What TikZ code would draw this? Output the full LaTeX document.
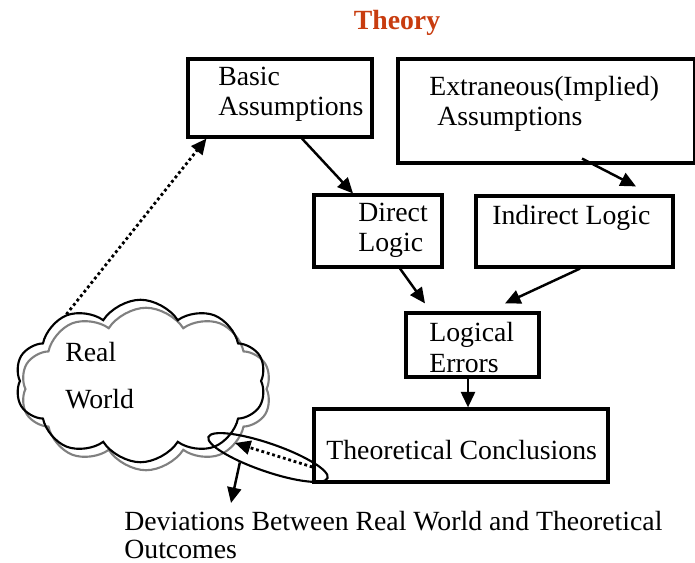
\documentclass[tikz,border=0pt]{standalone}
\usepackage{fontspec}
\setmainfont{Liberation Serif}
\usetikzlibrary{shapes.symbols,shapes.geometric,arrows.meta}
\definecolor{theoryred}{RGB}{200, 60, 15}

\begin{document}
\begin{tikzpicture}[x=0.02cm, y=-0.02cm,
    font=\fontsize{15.8}{17.6}\selectfont,
    box/.style={draw, line width=1.8pt, rectangle, inner sep=0pt},
    txt/.style={anchor=base west, align=left, inner sep=0pt},
    arr/.style={line width=1.4pt, -{Triangle[length=0.31cm, width=0.28cm]}},
    dots/.style={arr, line width=1.6pt, dash pattern=on 1.6pt off 1.6pt},
    puff/.style={cloud, cloud puffs=10, cloud puff arc=115, line width=1.2pt, minimum width=5.02cm, minimum height=3.25cm}]
                    \useasboundingbox (0,0) rectangle (695,563);

                    \node[anchor=base, font=\fontsize{15.8}{17.6}\selectfont\bfseries, text=theoryred] (title) at (397,30) {Theory};

                    \node[box, minimum width=3.68cm, minimum height=1.56cm] (basic) at (280,98) {};
                    \node[box, minimum width=5.94cm, minimum height=2.08cm] (extra) at (546.5,111) {};
                    \node[box, minimum width=2.56cm, minimum height=1.44cm] (direct) at (378,231) {};
                    \node[box, minimum width=3.94cm, minimum height=1.42cm] (indirect) at (574.5,231.5) {};
                    \node[box, minimum width=2.66cm, minimum height=1.28cm] (errors) at (472.5,345) {};
                    \node[box, minimum width=5.88cm, minimum height=1.46cm] (concl) at (461,445.5) {};

                    % base of the last line
                    \node[txt] (basictxt) at (218,116) {Basic\\Assumptions};
                    \node[txt] (extratxt) at (429,126) {Extraneous(Implied)\\\hspace*{0.16cm}Assumptions};
                    \node[txt] (directtxt) at (358,252) {Direct\\Logic};
                    \node[txt] (indirecttxt) at (492,225) {Indirect Logic};
                    \node[txt] (errorstxt) at (429,372) {Logical\\Errors};
                    \node[txt] (concltxt) at (326,459) {Theoretical Conclusions};

                    \node[puff, draw=gray] (worldshadow) at (146,389) {};
                    \node[puff, draw] (world) at (140.5,381) {};
                    \node[txt] (worldtxt) at (65,408) {Real\\[0.32cm]World};

                    \node[ellipse, draw, line width=1.2pt, inner sep=0pt, minimum width=2.52cm, minimum height=0.56cm, rotate=-19] (gap) at (268,457.5) {};
                    \coordinate (gapin) at (235,443);
                    \coordinate (devtip) at (231,503);
                    \node[txt, font=\fontsize{15.8}{15.9}\selectfont] (devtxt) at (124,558) {Deviations Between Real World and Theoretical\\Outcomes};

                    \draw[arr] ([xshift=0.44cm]basic.south) -- ([xshift=-0.5cm]direct.north);
                    \draw[arr] ([xshift=0.71cm, yshift=0.12cm]extra.south) -- ([xshift=1.23cm, yshift=0.16cm]indirect.north);
                    \draw[arr] ([xshift=0.44cm]direct.south) -- ([xshift=-0.95cm, yshift=0.16cm]errors.north);
                    \draw[arr] ([xshift=0.11cm]indirect.south) -- ([xshift=0.65cm, yshift=0.16cm]errors.north);
                    \draw[arr] ([xshift=-0.09cm]errors.south) -- ([xshift=-0.09cm]errors.south |- concl.north);
                    \draw[dots] (world.138) -- ([xshift=0.4cm]basic.south west);
                    \draw[dots] ([yshift=-0.43cm]concl.west) -- (gapin);
                    \draw[arr] (gap.209) -- (devtip);
                \end{tikzpicture}
\end{document}
